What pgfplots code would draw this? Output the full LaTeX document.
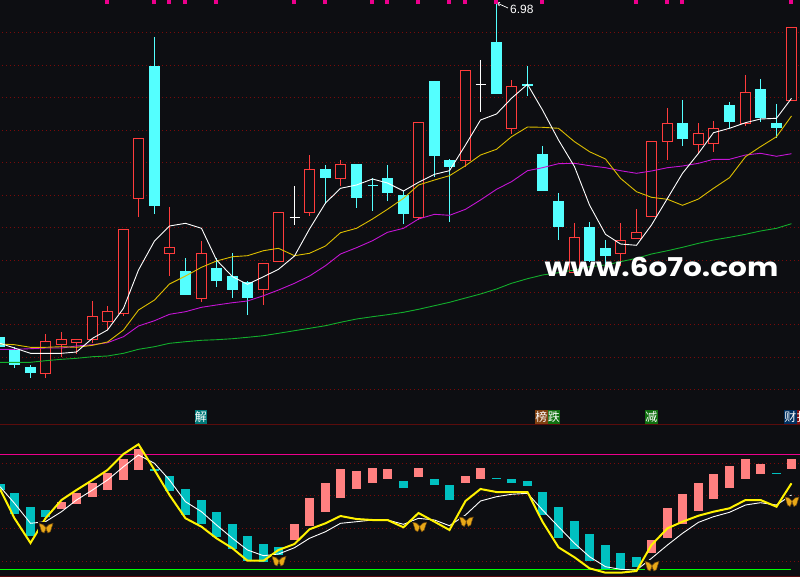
\documentclass[border=0pt]{standalone}
\usepackage{fontspec}
\usepackage{pgfplots}
\usepackage{pgfplotstable}
\pgfplotsset{compat=1.18}
\setmainfont{Liberation Sans}
\newfontfamily\cjk{Noto Sans CJK SC}
\newfontfamily\wmfont{Poppins}

\definecolor{bg}{HTML}{0D0E12}
\definecolor{upred}{HTML}{FF3C3C}
\definecolor{downcyan}{HTML}{54FFFF}
\definecolor{griddark}{HTML}{7A0A0A}
\definecolor{solidred}{HTML}{5A0C0C}
\definecolor{ma10}{HTML}{DDBE00}
\definecolor{ma20}{HTML}{C414D4}
\definecolor{ma60}{HTML}{12AE2C}
\definecolor{barteal}{HTML}{00C0C0}
\definecolor{barpink}{HTML}{FF8080}
\definecolor{flygold}{HTML}{E8A818}
\definecolor{flydark}{HTML}{70480C}
\definecolor{tagteal}{HTML}{007878}
\definecolor{tagbrown}{HTML}{804010}
\definecolor{taggreen}{HTML}{107010}
\definecolor{tagblue}{HTML}{003060}
\definecolor{tagred}{HTML}{801010}

% butterfly sitting on a small box of background colour
\pgfdeclareplotmark{fly}{%
  \pgfsetfillcolor{bg}%
  \pgfpathrectangle{\pgfpoint{-7.5bp}{-6bp}}{\pgfpoint{15bp}{12bp}}%
  \pgfusepathqfill
  \pgfsetfillcolor{flygold}\pgfsetstrokecolor{flydark}\pgfsetlinewidth{0.5bp}%
  \pgfpathmoveto{\pgfpoint{0bp}{0.5bp}}%
  \pgflineto{\pgfpoint{3bp}{3.5bp}}\pgflineto{\pgfpoint{7bp}{4.5bp}}%
  \pgflineto{\pgfpoint{5.5bp}{0bp}}\pgflineto{\pgfpoint{4.5bp}{-3.5bp}}%
  \pgflineto{\pgfpoint{2bp}{-5bp}}\pgflineto{\pgfpoint{0.5bp}{-2bp}}\pgfclosepath
  \pgfpathmoveto{\pgfpoint{0bp}{0.5bp}}%
  \pgflineto{\pgfpoint{-3bp}{3.5bp}}\pgflineto{\pgfpoint{-7bp}{4.5bp}}%
  \pgflineto{\pgfpoint{-5.5bp}{0bp}}\pgflineto{\pgfpoint{-4.5bp}{-3.5bp}}%
  \pgflineto{\pgfpoint{-2bp}{-5bp}}\pgflineto{\pgfpoint{-0.5bp}{-2bp}}\pgfclosepath
  \pgfusepathqfillstroke
}

% x, high, low, body top, body bottom
\newcommand\upcandle[5]{%
  \pgfmathsetmacro\xl{#1-5}\pgfmathsetmacro\xr{#1+5}%
  \pgfmathsetmacro\yt{floor(#4)+0.5}\pgfmathsetmacro\yb{floor(#5)+0.5}%
  \addplot[upred,line width=1bp] coordinates {(#1,#2) (#1,#3)};
  \addplot[draw=upred,fill=bg,line width=1bp,line join=miter] coordinates {(\xl,\yt) (\xr,\yt) (\xr,\yb) (\xl,\yb) (\xl,\yt) (\xr,\yt)};
}
\newcommand\downcandle[5]{%
  \pgfmathsetmacro\yt{round(#4)}\pgfmathsetmacro\yb{round(#5)}%
  \addplot[downcyan,line width=1bp] coordinates {(#1,#2) (#1,#3)};
  \addplot[downcyan,line width=11bp] coordinates {(#1,\yt) (#1,\yb)};
}
% x, high, low, close, colour
\newcommand\doji[5]{%
  \pgfmathsetmacro\xl{#1-5}\pgfmathsetmacro\xr{#1+5}\pgfmathsetmacro\yc{floor(#4)+0.5}%
  \addplot[#5,line width=1bp] coordinates {(#1,#2) (#1,#3)};
  \addplot[#5,line width=1bp] coordinates {(\xl,\yc) (\xr,\yc)};
}
% x, top, bottom
\newcommand\tealbar[3]{\addplot[barteal,line width=9bp] coordinates {(#1,#2) (#1,#3)};}
\newcommand\pinkbar[3]{\addplot[barpink,line width=9bp] coordinates {(#1,#2) (#1,#3)};}
% x left, x right, colour, character
\newcommand\newstag[4]{\addplot[#3,line width=13.5bp] coordinates {(#1,416.8) (#2,416.8)};
  \node[text=white,font=\cjk\fontsize{12}{12}\selectfont,inner sep=0pt,overlay] at (axis cs:#1+6.3,416.8) {#4};}

\pgfplotstableread{
x ma5 ma10 ma20 ma60
0 343.3 344 349.3 362.3
14.5 348 344.7 349.3 362.3
30.5 353.3 347.3 348.7 362.3
45.5 353.3 347.3 348 360.7
61.5 353.3 346.7 348 359.3
76.5 352 347.3 346 358.3
92.5 338.3 345.3 344.7 356.7
107.5 330 342 342.7 356
123.5 308.3 330 336.7 353.3
138.5 270 310 326 349.3
154.5 241 300 320.7 346.7
169.5 226 284 314.3 343.3
185.5 223.3 276 311.7 341.7
201.5 228.3 267.3 307.3 340.3
216.5 260 261 305 339.7
232.5 276.7 256.7 302.7 338.7
247.5 284.3 255.7 301 337.3
263.5 276.7 250.7 295.7 335.7
278.5 269.3 248.3 290 333.3
294.5 256 255.7 283.3 330.7
309.5 229 253.3 276 328.3
325.5 203 246 265.7 325.7
340.5 188.3 232.7 254 322.3
356.5 185 228.3 247.7 319
372.5 179 219 240.7 316.7
387.5 183 209.3 232.3 314.7
403.5 191 198.3 228.3 312.3
418.5 182.3 185 219 309.3
434.5 174.3 180 214.3 305.7
449.5 170.7 175.7 215.3 302.3
465.5 145 165.7 209.3 298
480.5 120 155 200 294
496.5 114 149.3 189.3 289
511.5 98.3 136.7 181.7 283.3
527.5 84.3 127 170.7 278.7
542.5 110 127.3 167.7 275
558.5 140 128.3 163.7 272.7
574.5 166.7 141.7 163.3 270
589.5 205 151.7 165.7 266.7
605.5 234.3 159 167.7 265
620.5 244 178.3 170.7 261.7
636.5 245.3 191.7 173.3 258.3
651.5 225 197.3 171 254
667.5 198.3 199.3 167.7 250.7
682.5 173.3 205.3 166 247.3
698.5 153.3 199 163.3 243.3
713.5 132.7 188.3 159.3 240
729.5 128.3 177.7 159.3 237.3
745.5 122.7 156.7 155 234.3
760.5 119 146.7 153.3 231
776.5 118.3 136.7 156.3 228.3
791.5 98.3 116 153.7 223.7
}\mainlines

\pgfplotstableread{
x fast slow
0 489 486.7
14.5 518.3 503.3
30.5 543 523.3
45.5 518.3 521.7
61.5 500 511.7
76.5 490 500
92.5 480 490
107.5 470 480
123.5 454 466.7
138.5 444.3 455
154.5 470 463.3
169.5 495 480
185.5 518.3 501.7
201.5 526.7 511.7
216.5 538.3 525
232.5 548.3 538.3
247.5 560.7 550
263.5 560.7 555.7
278.5 550 554
294.5 544 547.7
309.5 529.3 538.3
325.5 523.3 531.7
340.5 516 523.3
356.5 519 521.7
372.5 520 520
387.5 520 520
403.5 527.3 524.3
418.5 513 518.3
434.5 521.7 520
449.5 530 525.7
465.5 501 515
480.5 489 501
496.5 492 496.7
511.5 492 494.3
527.5 492 493.3
542.5 521.7 510
558.5 547.3 526.7
574.5 557.3 543.3
589.5 568.3 556.7
605.5 572.7 566.7
620.5 572.7 569.3
636.5 571 570
651.5 545 558.3
667.5 528.3 545
682.5 521.7 533.3
698.5 515.7 522.3
713.5 511.7 516.7
729.5 508.3 512.3
745.5 500 505
760.5 500 502.7
776.5 506.7 505
791.5 483.3 495
}\lowerlines

\begin{document}
\begin{tikzpicture}
\useasboundingbox (0,0) rectangle (800bp,577bp);
\begin{axis}[
    at={(0,0)}, anchor=south west,
    width=800bp, height=577bp, scale only axis,
    xmin=0, xmax=800, ymin=0, ymax=577, y dir=reverse,
    xtick=\empty, ytick=\empty,
    axis line style={draw=none},
    axis background/.style={fill=bg},
    griddot/.style={griddark,line width=1bp,dash pattern=on 1bp off 3bp},
]
% dotted price and indicator levels
\pgfplotsinvokeforeach{32.5,65.5,97.5,130.5,162.5,195.5,227.5,260.5,292.5,324.5,357.5,389.5,463.5,495.5,528.5,561.5}{
  \addplot[griddot] coordinates {(2,#1) (800,#1)};
}
\addplot[solidred,line width=1bp] coordinates {(0,424.5) (800,424.5)};
\addplot[solidred,line width=1bp] coordinates {(0,576.5) (800,576.5)};

% signal ticks along the top edge
\addplot[only marks,mark=square*,mark size=1.5bp,mark options={fill=magenta,draw=none},color=magenta]
  coordinates {(106.5,1.5) (153.5,1.5) (168.5,1.5) (184.5,1.5) (215.5,1.5) (293.5,1.5) (324.5,1.5)
  (371.5,1.5) (386.5,1.5) (417.5,1.5) (448.5,1.5) (464.5,1.5) (495.5,1.5) (541.5,1.5) (635.5,1.5)
  (666.5,1.5) (681.5,1.5) (790.5,1.5)};

% candles
\addplot[downcyan,line width=5bp] coordinates {(2.5,337) (2.5,347)};
\downcandle{14.5}{346.7}{367.7}{350}{364.7}
\downcandle{30.5}{365.3}{378}{367}{372.7}
\upcandle{45.5}{334.3}{378}{341.7}{373.3}
\upcandle{61.5}{332.3}{356.7}{339.3}{344.7}
\upcandle{76.5}{339.3}{353.7}{339.3}{342.7}
\upcandle{92.5}{301.3}{343.3}{316.3}{339.3}
\upcandle{107.5}{306}{330}{311.3}{321.7}
\upcandle{123.5}{229.3}{316}{229.3}{313.3}
\upcandle{138.5}{138.3}{216.7}{138.3}{198.5}
\downcandle{154.5}{37}{214}{66}{206}
\upcandle{169.5}{207.3}{276}{247.3}{253.3}
\downcandle{185.5}{258.3}{295}{271}{295}
\upcandle{201.5}{241}{301.7}{253.3}{298.3}
\downcandle{216.5}{258.3}{286.7}{268.3}{280.7}
\downcandle{232.5}{253.3}{297.7}{276}{289.7}
\downcandle{247.5}{281}{314.7}{282.3}{297.7}
\upcandle{263.5}{263.3}{304.7}{263.3}{289.3}
\upcandle{278.5}{212.3}{261.7}{212.3}{261.7}
\doji{294.5}{186.3}{225}{217.3}{white}
\upcandle{309.5}{155}{216}{169.3}{212.3}
\downcandle{325.5}{165}{204}{169}{177.7}
\upcandle{340.5}{160}{185.7}{164.3}{178.3}
\downcandle{356.5}{164}{207.7}{164}{198}
\doji{372.5}{178.3}{210.7}{185}{downcyan}
\downcandle{387.5}{165}{201}{178}{192.7}
\downcandle{403.5}{190.7}{224}{195}{213.7}
\upcandle{418.5}{122.3}{220}{122.3}{217.3}
\downcandle{434.5}{81}{176.7}{81}{155.7}
\downcandle{449.5}{159}{221.7}{160}{166.7}
\upcandle{465.5}{70.3}{166.7}{70.3}{160.7}
\doji{480.5}{60}{111.7}{84.3}{white}
\downcandle{496.5}{2}{93.7}{42}{93.7}
\upcandle{511.5}{80}{134}{86.3}{128.7}
\downcandle{527.5}{66}{96}{84}{86}
\downcandle{542.5}{146}{190.7}{154}{190.7}
\downcandle{558.5}{193}{240}{201}{226.7}
\upcandle{574.5}{223}{272.7}{237.3}{272.7}
\downcandle{589.5}{222}{262}{227}{260.7}
\downcandle{605.5}{240}{270}{248}{256}
\upcandle{620.5}{223}{266}{240.3}{253.7}
\upcandle{636.5}{209}{238.7}{232.3}{238.7}
\upcandle{651.5}{141.3}{216.7}{141.3}{216.7}
\upcandle{667.5}{108}{160}{123.3}{141.7}
\downcandle{682.5}{100}{146}{123}{139}
\upcandle{698.5}{123}{154}{133.3}{144.3}
\upcandle{713.5}{121}{152}{128.3}{143.7}
\downcandle{729.5}{102}{128.3}{105}{121.7}
\upcandle{745.5}{75}{126}{92.3}{123.7}
\downcandle{760.5}{79}{121.7}{89}{117.7}
\downcandle{776.5}{104}{138.3}{123}{128}
\upcandle{791.5}{27.3}{100.3}{27.3}{100.3}

% moving averages
\addplot[ma60,line width=0.9bp] table[x=x,y=ma60] {\mainlines};
\addplot[ma20,line width=0.9bp] table[x=x,y=ma20] {\mainlines};
\addplot[ma10,line width=0.9bp] table[x=x,y=ma10] {\mainlines};
\addplot[white,line width=0.9bp] table[x=x,y=ma5] {\mainlines};

% high marker
\addplot[white,line width=0.7bp] coordinates {(497,3) (508,8)};
\addplot[white,line width=0.7bp] coordinates {(500,2.5) (497,3) (499.5,6)};
\node[text=white,font=\fontsize{12}{12}\selectfont,anchor=west,inner sep=0pt] at (axis cs:510,9) {6.98};

% watermark
\node[text=white,inner sep=0pt] at (axis cs:661.5,267)
  {\scalebox{1.14}[1]{\wmfont\bfseries\fontsize{26}{26}\selectfont www.6o7o.com}};

% news tags
\newstag{194.5}{207}{tagteal}{解}
\newstag{535}{547.5}{tagbrown}{榜}
\newstag{547.5}{560}{taggreen}{跌}
\newstag{645}{658}{taggreen}{减}
\newstag{784}{796.5}{tagblue}{财}
\newstag{796.5}{800}{tagred}{报}

% lower panel
\addplot[magenta,line width=1bp] coordinates {(0,454.5) (800,454.5)};
\tealbar{0}{484}{490}
\tealbar{14.5}{493}{514}
\tealbar{30.5}{507}{536}
\tealbar{45.5}{510}{517}
\pinkbar{61.5}{502}{509}
\pinkbar{76.5}{493}{504}
\pinkbar{92.5}{483}{497}
\pinkbar{107.5}{473}{490}
\pinkbar{123.5}{459}{480}
\pinkbar{138.5}{449}{470}
\tealbar{154.5}{469}{471}
\tealbar{169.5}{476}{491}
\tealbar{185.5}{489}{515}
\tealbar{201.5}{500}{524}
\tealbar{216.5}{512}{537}
\tealbar{232.5}{524}{549}
\tealbar{247.5}{536}{561}
\tealbar{263.5}{544}{562}
\tealbar{278.5}{547}{556}
\pinkbar{294.5}{524}{540}
\pinkbar{309.5}{498}{526}
\pinkbar{325.5}{483}{512}
\pinkbar{340.5}{469}{498}
\pinkbar{356.5}{471}{489}
\pinkbar{372.5}{468}{483}
\pinkbar{387.5}{469}{479}
\tealbar{403.5}{481}{488}
\pinkbar{418.5}{468}{477}
\tealbar{434.5}{479}{485}
\tealbar{449.5}{485}{500}
\pinkbar{465.5}{476}{483}
\pinkbar{480.5}{468}{479}
\tealbar{496.5}{478}{479}
\tealbar{511.5}{479}{483}
\tealbar{527.5}{481}{486}
\tealbar{542.5}{492}{515}
\tealbar{558.5}{507}{538}
\tealbar{574.5}{521}{549}
\tealbar{589.5}{534}{561}
\tealbar{605.5}{545}{569}
\tealbar{620.5}{553}{569}
\tealbar{636.5}{557}{567}
\pinkbar{651.5}{540}{553}
\pinkbar{667.5}{508}{538}
\pinkbar{682.5}{494}{524}
\pinkbar{698.5}{483}{511}
\pinkbar{713.5}{474}{499}
\pinkbar{729.5}{466}{488}
\pinkbar{745.5}{459}{479}
\pinkbar{760.5}{464}{474}
\tealbar{776.5}{473}{474}
\pinkbar{791.5}{459}{469}
\addplot[green,line width=1bp] coordinates {(0,569.5) (791,569.5)};
\addplot[white,line width=0.9bp] table[x=x,y=slow] {\lowerlines};
\addplot[yellow,line width=2bp] table[x=x,y=fast] {\lowerlines};

% butterflies
\addplot[only marks,mark=fly] coordinates {(46,528) (279,561) (419.7,526.7) (466.3,521.5) (652,566) (792,501.5)};
\end{axis}
\end{tikzpicture}
\end{document}
